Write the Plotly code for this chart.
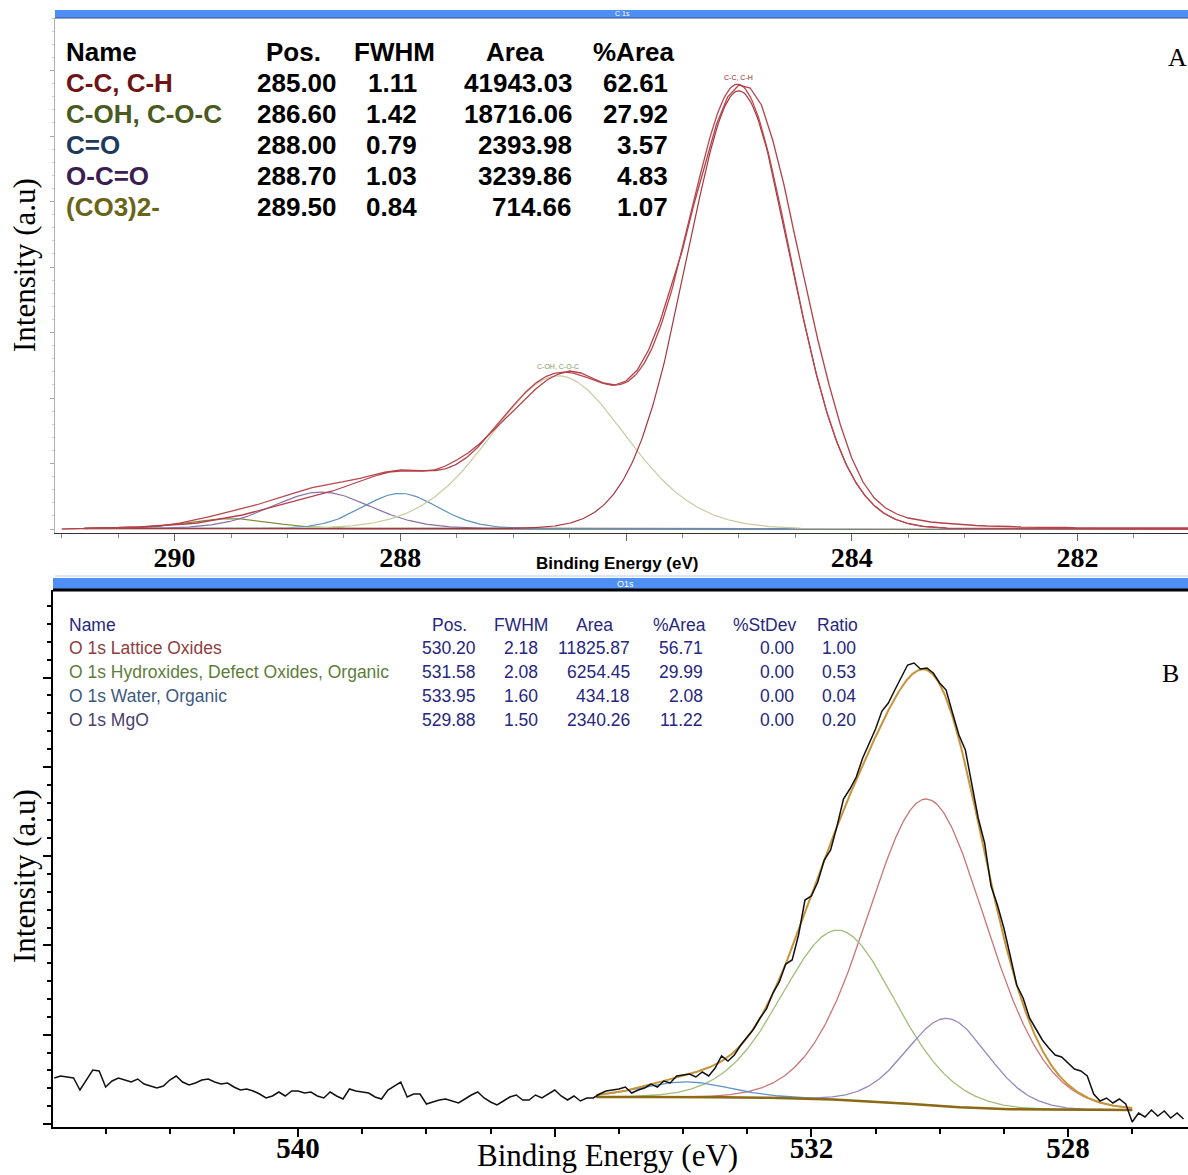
import numpy as np
import plotly.graph_objects as go

W, H = 1188, 1175

# ---------------- C 1s fit table ----------------
c1s_names = ["C-C, C-H", "C-OH, C-O-C", "C=O", "O-C=O", "(CO3)2-"]
c1s_pos = [285.00, 286.60, 288.00, 288.70, 289.50]
c1s_fwhm = [1.11, 1.42, 0.79, 1.03, 0.84]
c1s_area = [41943.03, 18716.06, 2393.98, 3239.86, 714.66]
c1s_pct = [62.61, 27.92, 3.57, 4.83, 1.07]

# C 1s measured spectrum (a.u.), 291.0 -> 281.0 eV, 0.1 eV steps
c1s_be0, c1s_step = 291.0, 0.1
c1s_counts = [4, 4, 4.5, 5, 5, 5.5, 6, 6, 7, 7.5,
              8, 9, 10, 12, 14, 16, 18, 21, 24, 27,
              30, 33, 36, 39, 42, 46, 50, 54, 58, 61,
              62, 62, 62, 63, 67, 73, 80, 89, 100, 111,
              123, 134, 144, 153, 159, 162, 160, 155, 150, 148,
              152, 163, 183, 211, 246, 283, 328, 368, 408, 436,
              448, 445, 428, 393, 348, 295, 243, 193, 148, 108,
              75, 51, 35, 25, 19, 15, 13, 11, 10, 9,
              8, 7.5, 7, 7, 6.5, 6, 6, 6, 5.5, 5.5,
              5, 5, 5, 5, 5, 5, 5, 5, 5, 5, 5]
c1s_bg_low, c1s_bg_high = 4.0, 4.5          # background at 281.0 / 290.8 eV
c1s_fit_lo, c1s_fit_hi = 281.0, 290.8

# ---------------- O 1s fit table ----------------
o1s_names = ["O 1s Lattice Oxides", "O 1s Hydroxides, Defect Oxides, Organic",
             "O 1s Water, Organic", "O 1s MgO"]
o1s_pos = [530.20, 531.58, 533.95, 529.88]
o1s_fwhm = [2.18, 2.08, 1.60, 1.50]
o1s_area = [11825.87, 6254.45, 434.18, 2340.26]
o1s_pct = [56.71, 29.99, 2.08, 11.22]
o1s_stdev = [0.00, 0.00, 0.00, 0.00]
o1s_ratio = [1.00, 0.53, 0.04, 0.20]

# O 1s measured spectrum (a.u.), 543.8 -> 526.2 eV, 0.1 eV steps
o1s_be0, o1s_step = 543.8, 0.1
o1s_counts = [49, 51, 50, 49, 37, 47, 57, 56, 40, 46,
              49, 47, 45, 48, 43, 41, 39, 41, 47, 51,
              45, 42, 44, 47, 48, 45, 43, 44, 40, 37,
              38, 36, 33, 29, 31, 35, 31, 36, 36, 34,
              35, 31, 29, 35, 31, 28, 38, 36, 35, 34,
              30, 28, 37, 41, 45, 30, 33, 33, 23, 25,
              27, 28, 26, 24, 28, 32, 35, 29, 25, 22,
              26, 30, 32, 27, 27, 32, 29, 33, 37, 31,
              27, 31, 26, 29, 29, 33, 36, 37, 38, 40,
              34, 37, 39, 43, 40, 46, 44, 51, 52, 53,
              50, 55, 51, 59, 71, 66, 72, 82, 90, 98,
              109, 118, 134, 145, 163, 167, 192, 227, 231, 245,
              267, 277, 301, 328, 338, 350, 369, 383, 398, 416,
              424, 437, 450, 462, 464, 458, 459, 454, 444, 437,
              414, 392, 377, 342, 309, 284, 241, 222, 199, 171,
              142, 129, 109, 98, 87, 79, 72, 70, 64, 58,
              56, 51, 33, 26, 29, 24, 28, 23, 5, 14,
              10, 17, 11, 16, 9, 14, 8]
o1s_bg_low, o1s_bg_high = 17.0, 30.0        # Shirley end points
o1s_fit_lo, o1s_fit_hi = 527.0, 535.35

# peak height per unit (area / FWHM) on the a.u. intensity scale
C1S_HEIGHT_PER_AREA = 0.011591
O1S_HEIGHT_PER_AREA = 0.05641
GL_MIX = 0.3

# half-width of the GL(30) product profile, used so that the drawn FWHM is exact
_dd = np.linspace(0.0, 1.0, 20001)
_prof = np.exp(-4 * np.log(2) * (1 - GL_MIX) * _dd ** 2) / (1 + 4 * GL_MIX * _dd ** 2)
GL_HALF = _dd[np.argmin(np.abs(_prof - 0.5))]


def gl_product(x, pos, fwhm, mix=GL_MIX):
    """GL(30) product line shape, unit height, half maximum at pos +- fwhm/2."""
    d2 = ((x - pos) / fwhm * 2 * GL_HALF) ** 2
    return np.exp(-4 * np.log(2) * (1 - mix) * d2) / (1 + 4 * mix * d2)


def fit_curves(pos, fwhm, area, k, lo, hi, bg_lo, bg_hi, n=700):
    x = np.linspace(lo, hi, n)
    comps = [k * a / w * gl_product(x, p, w) for p, w, a in zip(pos, fwhm, area)]
    total = np.sum(comps, axis=0)
    cum = np.concatenate([[0], np.cumsum(0.5 * (total[1:] + total[:-1]) * np.diff(x))])
    bg = bg_lo + (bg_hi - bg_lo) * cum / cum[-1]   # Shirley-type step
    return x, comps, bg


c1s_x, c1s_comps, c1s_bg = fit_curves(c1s_pos, c1s_fwhm, c1s_area, C1S_HEIGHT_PER_AREA,
                                      c1s_fit_lo, c1s_fit_hi, c1s_bg_low, c1s_bg_high)
o1s_x, o1s_comps, o1s_bg = fit_curves(o1s_pos, o1s_fwhm, o1s_area, O1S_HEIGHT_PER_AREA,
                                      o1s_fit_lo, o1s_fit_hi, o1s_bg_low, o1s_bg_high)

c1s_be = c1s_be0 - c1s_step * np.arange(len(c1s_counts))
o1s_be = o1s_be0 - o1s_step * np.arange(len(o1s_counts))

c1s_line_colors = ["#a8363d", "#c9cba0", "#5b92ba", "#8c6ea8", "#8a8a3c"]
c1s_text_colors = ["#6e1414", "#4a5a20", "#1e3a5a", "#3a2050", "#6a6418"]
o1s_line_colors = ["#c97676", "#a3bd78", "#5f93c4", "#9486be"]
o1s_text_colors = ["#8b4040", "#5e7d3a", "#3d5a80", "#4a3f6b"]

fig = go.Figure()

# ---- panel A traces ----
fig.add_trace(go.Scatter(x=c1s_x, y=c1s_bg, mode="lines", xaxis="x", yaxis="y",
                         line=dict(color="#3a2a2a", width=1.5), hoverinfo="skip"))
for comp, col in zip(c1s_comps[::-1], c1s_line_colors[::-1]):
    fig.add_trace(go.Scatter(x=c1s_x, y=comp + c1s_bg, mode="lines", xaxis="x", yaxis="y",
                             line=dict(color=col, width=1.2), hoverinfo="skip"))
fig.add_trace(go.Scatter(x=c1s_x, y=np.sum(c1s_comps, axis=0) + c1s_bg, mode="lines",
                         xaxis="x", yaxis="y", line=dict(color="#b9474d", width=1.3)))
fig.add_trace(go.Scatter(x=c1s_be, y=c1s_counts, mode="lines", xaxis="x", yaxis="y",
                         line=dict(color="#b3424a", width=1.3)))

# ---- panel B traces ----
for comp, col in zip(o1s_comps, o1s_line_colors):
    fig.add_trace(go.Scatter(x=o1s_x, y=comp + o1s_bg, mode="lines", xaxis="x2", yaxis="y2",
                             line=dict(color=col, width=1.3), hoverinfo="skip"))
fig.add_trace(go.Scatter(x=o1s_x, y=o1s_bg, mode="lines", xaxis="x2", yaxis="y2",
                         line=dict(color="#8c6a14", width=2.5), hoverinfo="skip"))
fig.add_trace(go.Scatter(x=o1s_x, y=np.sum(o1s_comps, axis=0) + o1s_bg, mode="lines",
                         xaxis="x2", yaxis="y2", line=dict(color="#c8943a", width=2)))
fig.add_trace(go.Scatter(x=o1s_be, y=o1s_counts, mode="lines", xaxis="x2", yaxis="y2",
                         line=dict(color="#111111", width=1.5)))


def px(x):
    return x / W


def py(y):
    return 1 - y / H


annotations = []


def text(s, x, y, size, color="#000000", family="Liberation Sans", xanchor="left",
         weight="normal", angle=0):
    annotations.append(dict(text=s, x=px(x), y=py(y), xref="paper", yref="paper",
                            xanchor=xanchor, yanchor="middle", showarrow=False,
                            textangle=angle, borderpad=0,
                            font=dict(size=size, color=color, family=family, weight=weight)))


# ---- panel A table ----
A_FONT = "Liberation Sans"
A_SIZE = 26
A_W = "bold"
a_rows = [52, 83, 114, 145, 176, 207]
text("Name", 65, a_rows[0], A_SIZE, "#000000", A_FONT, weight=A_W)
text("Pos.", 322, a_rows[0], A_SIZE, "#000000", A_FONT, "right", A_W)
text("FWHM", 436, a_rows[0], A_SIZE, "#000000", A_FONT, "right", A_W)
text("Area", 545, a_rows[0], A_SIZE, "#000000", A_FONT, "right", A_W)
text("%Area", 675, a_rows[0], A_SIZE, "#000000", A_FONT, "right", A_W)
for i, nm in enumerate(c1s_names):
    yy = a_rows[i + 1]
    text(nm, 65, yy, A_SIZE, c1s_text_colors[i], A_FONT, weight=A_W)
    text(f"{c1s_pos[i]:.2f}", 338, yy, A_SIZE, "#000000", A_FONT, "right", A_W)
    text(f"{c1s_fwhm[i]:.2f}", 418, yy, A_SIZE, "#000000", A_FONT, "right", A_W)
    text(f"{c1s_area[i]:.2f}", 573, yy, A_SIZE, "#000000", A_FONT, "right", A_W)
    text(f"{c1s_pct[i]:.2f}", 669, yy, A_SIZE, "#000000", A_FONT, "right", A_W)

# ---- panel B table ----
B_FONT = "Liberation Sans"
B_SIZE = 17.5
NAVY = "#27277e"
b_rows = [625, 648, 672, 696, 720]
text("Name", 68, b_rows[0], B_SIZE, NAVY, B_FONT)
for hdr, xr in [("Pos.", 468), ("FWHM", 549), ("Area", 614), ("%Area", 707),
                ("%StDev", 797), ("Ratio", 859)]:
    text(hdr, xr, b_rows[0], B_SIZE, NAVY, B_FONT, "right")
for i, nm in enumerate(o1s_names):
    yy = b_rows[i + 1]
    text(nm, 68, yy, B_SIZE, o1s_text_colors[i], B_FONT)
    text(f"{o1s_pos[i]:.2f}", 477, yy, B_SIZE, NAVY, B_FONT, "right")
    text(f"{o1s_fwhm[i]:.2f}", 539, yy, B_SIZE, NAVY, B_FONT, "right")
    text(f"{o1s_area[i]:.2f}", 631, yy, B_SIZE, NAVY, B_FONT, "right")
    text(f"{o1s_pct[i]:.2f}", 704, yy, B_SIZE, NAVY, B_FONT, "right")
    text(f"{o1s_stdev[i]:.2f}", 795, yy, B_SIZE, NAVY, B_FONT, "right")
    text(f"{o1s_ratio[i]:.2f}", 857, yy, B_SIZE, NAVY, B_FONT, "right")

# ---- titles and panel letters ----
SERIF = "Liberation Serif"
text("A", 1177, 57, 26, "#000000", SERIF, "center")
text("B", 1170, 673, 26, "#000000", SERIF, "center")
text("Intensity (a.u)", 24, 265, 31, "#000000", SERIF, "center", angle=-90)
text("Intensity (a.u)", 24, 876, 31, "#000000", SERIF, "center", angle=-90)
text("Binding Energy (eV)", 617, 563, 17, "#000000", "Liberation Sans", "center", "bold")
text("Binding Energy (eV)", 607, 1155, 31, "#000000", SERIF, "center")
text("C 1s", 622, 14, 7, "#ffffff", "Liberation Sans", "center")
text("O1s", 625, 584, 9, "#ffffff", "Liberation Sans", "center")

# component tags on the C 1s peaks
c1s_peak_y = [float(np.max(c + c1s_bg)) for c in c1s_comps]
for idx, col, shift in [(0, "#8b2a2a", 13), (1, "#7f9a5a", 9)]:
    annotations.append(dict(text=c1s_names[idx], x=c1s_pos[idx], y=c1s_peak_y[idx],
                            xref="x", yref="y", showarrow=False, yshift=shift,
                            font=dict(size=7, color=col, family="Liberation Sans")))

shapes = [
    dict(type="rect", xref="paper", yref="paper", x0=px(55), x1=1, y0=py(18), y1=py(10),
         fillcolor="#4f8ef2", line=dict(width=0), layer="below"),
    dict(type="line", xref="paper", yref="paper", x0=px(55), x1=1, y0=py(18), y1=py(18),
         line=dict(color="#2c4f90", width=1)),
    dict(type="line", xref="paper", yref="paper", x0=px(55), x1=1, y0=py(576), y1=py(576),
         line=dict(color="#b9cdf2", width=1)),
    dict(type="rect", xref="paper", yref="paper", x0=px(53), x1=1, y0=py(589), y1=py(578),
         fillcolor="#4f8ef2", line=dict(width=0), layer="below"),
    dict(type="line", xref="paper", yref="paper", x0=px(53), x1=1, y0=py(590), y1=py(590),
         line=dict(color="#000000", width=3)),
]

tick_font_a = dict(family=SERIF, size=28, color="#000000", weight="bold")
tick_font_b = dict(family=SERIF, size=29, color="#000000", weight="bold")

fig.update_layout(
    width=W, height=H, autosize=False,
    margin=dict(l=0, r=0, t=0, b=0, pad=0),
    paper_bgcolor="white", plot_bgcolor="white",
    showlegend=False,
    annotations=annotations, shapes=shapes,
    xaxis=dict(domain=[px(55), 1], anchor="y", range=[291.06, 281.02],
               showline=True, linecolor="#333333", linewidth=1.2,
               ticks="outside", ticklen=7, tickcolor="#666666",
               tickvals=[290, 288, 286, 284, 282], ticktext=["290", "288", "", "284", "282"],
               tickfont=tick_font_a, ticklabelstandoff=-8,
               minor=dict(tickmode="linear", tick0=0, dtick=0.5, ticks="outside",
                          ticklen=4, tickcolor="#888888"),
               showgrid=False, zeroline=False),
    yaxis=dict(domain=[py(533), py(18)], anchor="x", range=[0, 515],
               showline=True, linecolor="#b0b0b0", linewidth=1,
               ticks="outside", ticklen=4, tickcolor="#aaaaaa",
               tickmode="linear", tick0=4, dtick=65.5, showticklabels=False,
               minor=dict(tickmode="linear", tick0=4, dtick=13.1, ticks="outside",
                          ticklen=2, tickcolor="#cccccc"),
               showgrid=False, zeroline=False),
    xaxis2=dict(domain=[px(53), 1], anchor="y2", range=[543.82, 526.13],
                showline=True, linecolor="#000000", linewidth=2,
                ticks="outside", ticklen=8, tickwidth=1.5, tickcolor="#000000",
                tickvals=[540, 536, 532, 528], ticktext=["540", "", "532", "528"],
                tickfont=tick_font_b, ticklabelstandoff=-14,
                minor=dict(tickmode="linear", tick0=0, dtick=1, ticks="outside",
                           ticklen=5, tickcolor="#000000"),
                showgrid=False, zeroline=False),
    yaxis2=dict(domain=[py(1127), py(590)], anchor="x2", range=[0, 537],
                showline=True, linecolor="#000000", linewidth=2,
                ticks="outside", ticklen=8, tickwidth=1.5, tickcolor="#000000",
                tickmode="linear", tick0=3, dtick=89.3, showticklabels=False,
                minor=dict(tickmode="linear", tick0=3, dtick=17.86, ticks="outside",
                           ticklen=4, tickcolor="#000000"),
                showgrid=False, zeroline=False),
)

fig.write_html("out.html")
